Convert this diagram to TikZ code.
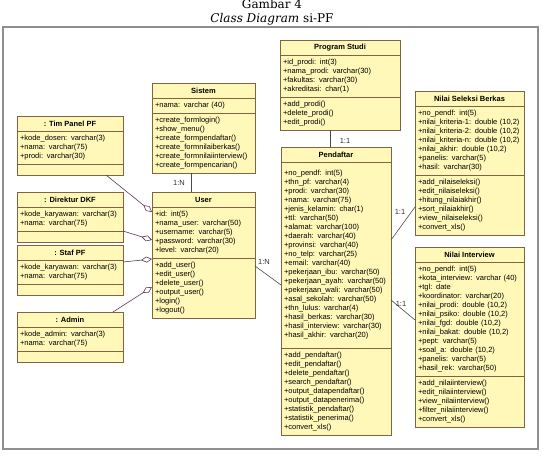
\documentclass[tikz,border=0pt]{standalone}
\usepackage{fontspec}
\usetikzlibrary{arrows.meta,calc}
\newfontfamily\umlfont{Liberation Sans}
\newfontfamily\ttlfont{DejaVu Serif}
\definecolor{boxfill}{HTML}{FFF8B8}
\definecolor{boxline}{HTML}{7E6440}
\definecolor{assocc}{HTML}{4A4A4A}
\definecolor{aggc}{HTML}{5E3A55}
\definecolor{framec}{HTML}{8F8F8F}
\tikzset{
  hdr/.style={draw=boxline, fill=boxfill, anchor=north west, minimum height=15pt,
    inner sep=0pt, outer sep=0pt, line width=0.7pt,
    font=\umlfont\bfseries\fontsize{7.5}{9}\selectfont},
  cmp/.style={draw=boxline, fill=boxfill, anchor=north west, inner xsep=3pt,
    inner ysep=0pt, outer sep=0pt, align=left, text width=#1, line width=0.7pt,
    font=\umlfont\fontsize{7.5}{9}\selectfont},
  mult/.style={font=\umlfont\fontsize{7.5}{9}\selectfont, inner sep=0pt, text=black!80},
  assoc/.style={draw=assocc, line width=0.6pt},
  agg/.style={draw=aggc, line width=0.6pt, -{Diamond[open, length=11pt, width=6pt]}},
  ttl/.style={font=\ttlfont\fontsize{12}{14}\selectfont, inner sep=0pt, anchor=base}
}
\begin{document}
\begin{tikzpicture}[x=1pt, y=-1pt]
\useasboundingbox (0,0) rectangle (543,461);
\fill[white] (0,0) rectangle (543,461);
% title
\node[ttl] (t1) at (272,8) {Gambar 4};
\node[ttl] (t2) at (272,22.5) {\textit{Class Diagram} si-PF};
\draw[framec, line width=1.2pt] (3,27) rectangle (538,449);

% Program Studi
\node[hdr, minimum width=120pt] (ps) at (280,40) {Program Studi};
\node[cmp=114pt, minimum height=42pt] (psA) at (ps.south west) {+id\_prodi: int(3)\\+nama\_prodi: varchar(30)\\+fakultas: varchar(30)\\+akreditasi: char(1)};
\node[cmp=114pt, minimum height=33pt] (psO) at (psA.south west) {+add\_prodi()\\+delete\_prodi()\\+edit\_prodi()};

% Sistem
\node[hdr, minimum width=103pt] (sis) at (152,83) {Sistem};
\node[cmp=97pt, minimum height=15pt] (sisA) at (sis.south west) {+nama: varchar (40)};
\node[cmp=97pt, minimum height=60pt] (sisO) at (sisA.south west) {+create\_formlogin()\\+show\_menu()\\+create\_formpendaftar()\\+create\_formnilaiberkas()\\+create\_formnilaiinterview()\\+create\_formpencarian()};

% User
\node[hdr, minimum width=103pt] (user) at (152,192) {User};
\node[cmp=97pt, minimum height=51pt] (userA) at (user.south west) {+id: int(5)\\+nama\_user: varchar(50)\\+username: varchar(5)\\+password: varchar(30)\\+level: varchar(20)};
\node[cmp=97pt, minimum height=60pt] (userO) at (userA.south west) {+add\_user()\\+edit\_user()\\+delete\_user()\\+output\_user()\\+login()\\+logout()};

% Pendaftar
\node[hdr, minimum width=110pt] (pend) at (281,147) {Pendaftar};
\node[cmp=104pt, minimum height=186pt] (pendA) at (pend.south west) {+no\_pendf: int(5)\\+thn\_pf: varchar(4)\\+prodi: varchar(30)\\+nama: varchar(75)\\+jenis\_kelamin: char(1)\\+ttl: varchar(50)\\+alamat: varchar(100)\\+daerah: varchar(40)\\+provinsi: varchar(40)\\+no\_telp: varchar(25)\\+email: varchar(40)\\+pekerjaan\_ibu: varchar(50)\\+pekerjaan\_ayah: varchar(50)\\+pekerjaan\_wali: varchar(50)\\+asal\_sekolah: varchar(50)\\+thn\_lulus: varchar(4)\\+hasil\_berkas: varchar(30)\\+hasil\_interview: varchar(30)\\+hasil\_akhir: varchar(20)};
\node[cmp=104pt, minimum height=87pt] (pendO) at (pendA.south west) {+add\_pendaftar()\\+edit\_pendaftar()\\+delete\_pendaftar()\\+search\_pendaftar()\\+output\_datapendaftar()\\+output\_datapenerima()\\+statistik\_pendaftar()\\+statistik\_penerima()\\+convert\_xls()};

% Nilai Seleksi Berkas
\node[hdr, minimum width=109pt] (nsb) at (415,91) {Nilai Seleksi Berkas};
\node[cmp=103pt, minimum height=69pt] (nsbA) at (nsb.south west) {+no\_pendf: int(5)\\+nilai\_kriteria-1: double (10,2)\\+nilai\_kriteria-2: double (10,2)\\+nilai\_kriteria-n: double (10,2)\\+nilai\_akhir: double (10,2)\\+panelis: varchar(5)\\+hasil: varchar(30)};
\node[cmp=103pt, minimum height=60pt] (nsbO) at (nsbA.south west) {+add\_nilaiseleksi()\\+edit\_nilaiseleksi()\\+hitung\_nilaiakhir()\\+sort\_nilaiakhir()\\+view\_nilaiseleksi()\\+convert\_xls()};

% Nilai Interview
\node[hdr, minimum width=109pt] (ni) at (415,247) {Nilai Interview};
\node[cmp=103pt, minimum height=114pt] (niA) at (ni.south west) {+no\_pendf: int(5)\\+kota\_interview: varchar (40)\\+tgl: date\\+koordinator: varchar(20)\\+nilai\_prodi: double (10,2)\\+nilai\_psiko: double (10,2)\\+nilai\_fgd: double (10,2)\\+nilai\_bakat: double (10,2)\\+pept: varchar(5)\\+soal\_a: double (10,2)\\+panelis: varchar(5)\\+hasil\_rek: varchar(50)};
\node[cmp=103pt, minimum height=51pt] (niO) at (niA.south west) {+add\_nilaiinterview()\\+edit\_nilaiinterview()\\+view\_nilaiinterview()\\+filter\_nilaiinterview()\\+convert\_xls()};

% Tim Panel PF
\node[hdr, minimum width=106pt] (tim) at (17,116) {: Tim Panel PF};
\node[cmp=100pt, minimum height=33pt] (timA) at (tim.south west) {+kode\_dosen: varchar(3)\\+nama: varchar(75)\\+prodi: varchar(30)};
\node[cmp=100pt, minimum height=11pt] (timO) at (timA.south west) {};

% Direktur DKF
\node[hdr, minimum width=106pt] (dir) at (17,192) {: Direktur DKF};
\node[cmp=100pt, minimum height=24pt] (dirA) at (dir.south west) {+kode\_karyawan: varchar(3)\\+nama: varchar(75)};
\node[cmp=100pt, minimum height=11pt] (dirO) at (dirA.south west) {};

% Staf PF
\node[hdr, minimum width=106pt] (staf) at (17,245) {: Staf PF};
\node[cmp=100pt, minimum height=24pt] (stafA) at (staf.south west) {+kode\_karyawan: varchar(3)\\+nama: varchar(75)};
\node[cmp=100pt, minimum height=11pt] (stafO) at (stafA.south west) {};

% Admin
\node[hdr, minimum width=106pt] (admin) at (17,312) {: Admin};
\node[cmp=100pt, minimum height=24pt] (adminA) at (admin.south west) {+kode\_admin: varchar(3)\\+nama: varchar(75)};
\node[cmp=100pt, minimum height=11pt] (adminO) at (adminA.south west) {};

% associations
\coordinate (c1) at ([xshift=39pt]sisO.south west);
\draw[assoc] (c1) -- (c1 |- user.north);
\coordinate (c2) at ([xshift=50pt]psO.south west);
\draw[assoc] (c2) -- (c2 |- pend.north);
\draw[assoc] ([yshift=-8pt]userO.north east) -- ([yshift=-123pt]pendA.north west);
\draw[assoc] ([yshift=-78pt]pendA.north east) -- ([yshift=-32pt]nsbO.north west);
\draw[assoc] ([yshift=-138pt]pendA.north east) -- ([yshift=-58pt]niA.north west);

% aggregations
\draw[agg] ([xshift=-17pt]timO.south east) -- ([yshift=-5pt]userA.north west);
\draw[agg] (dirO.north east) -- ([yshift=-33pt]userA.north west);
\draw[agg] ([yshift=-2pt]stafA.north east) -- ([yshift=-1pt]userO.north west);
\draw[agg] ([xshift=-10pt]admin.north east) -- ([yshift=-29pt]userO.north west);

% multiplicities
\node[mult] (m1) at (179,183) {1:N};
\node[mult] (m2) at (345,141) {1:1};
\node[mult] (m3) at (264,262) {1:N};
\node[mult] (m4) at (400,212) {1:1};
\node[mult] (m5) at (401,304) {1:1};
\end{tikzpicture}
\end{document}
